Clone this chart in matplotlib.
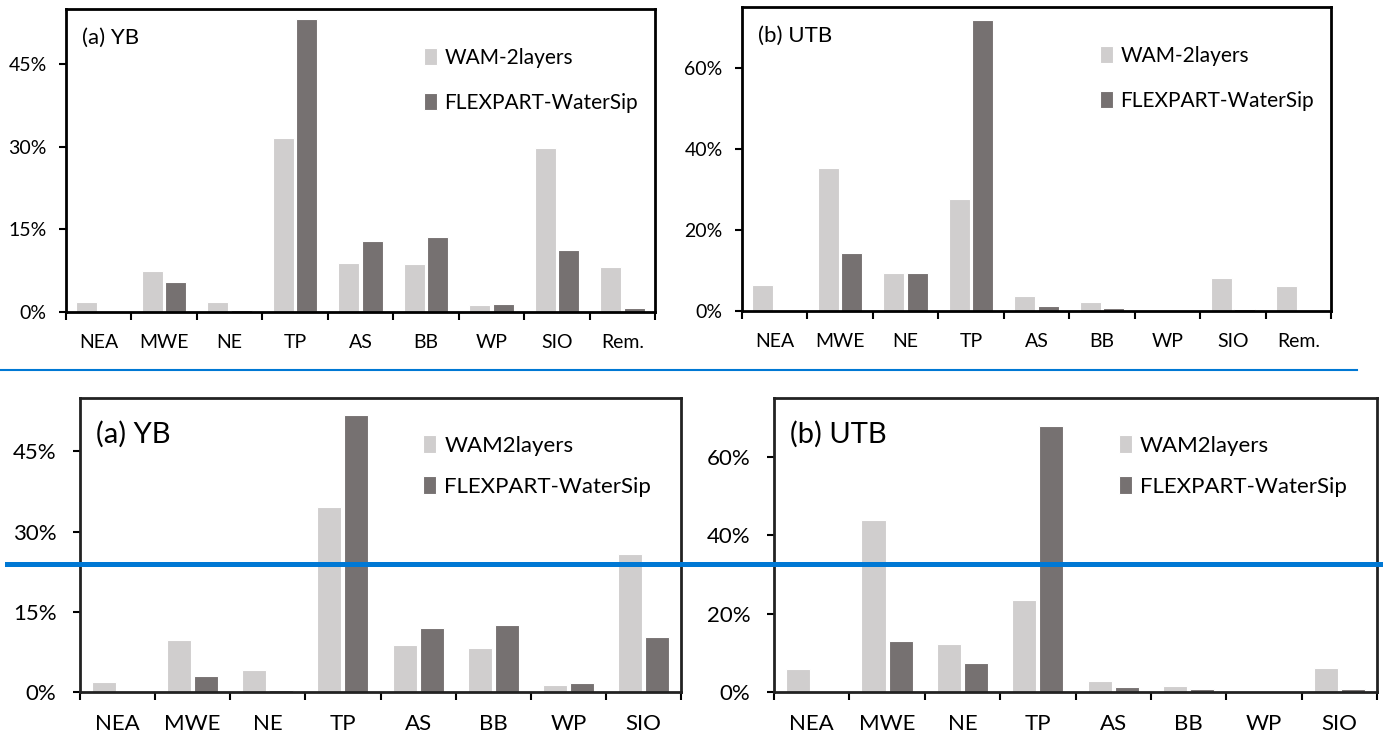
import numpy as np
import matplotlib.pyplot as plt
from matplotlib.lines import Line2D
from matplotlib.ticker import FuncFormatter

plt.rcParams['font.family'] = ['Lato', 'DejaVu Sans']

regions_top = ['NEA', 'MWE', 'NE', 'TP', 'AS', 'BB', 'WP', 'SIO', 'Rem.']
regions_bot = ['NEA', 'MWE', 'NE', 'TP', 'AS', 'BB', 'WP', 'SIO']

# moisture source contributions (%)
yb_wam_top = [1.8, 7.4, 1.9, 31.6, 8.9, 8.7, 1.3, 29.8, 8.1]
yb_flex_top = [0.0, 5.4, 0.3, 53.2, 12.9, 13.7, 1.5, 11.3, 0.8]
utb_wam_top = [6.3, 35.4, 9.4, 27.7, 3.7, 2.1, 0.0, 8.1, 6.2]
utb_flex_top = [0.0, 14.4, 9.4, 71.9, 1.2, 0.7, 0.0, 0.5, 0.0]

yb_wam_bot = [1.8, 9.8, 4.1, 34.7, 8.8, 8.3, 1.4, 25.8]
yb_flex_bot = [0.0, 3.0, 0.4, 51.8, 11.9, 12.5, 1.6, 10.2]
utb_wam_bot = [5.8, 44.0, 12.2, 23.4, 2.7, 1.6, 0.0, 6.2]
utb_flex_bot = [0.0, 13.1, 7.3, 67.9, 1.3, 0.8, 0.0, 0.8]

light = '#D0CECE'
dark = '#767171'
blue = '#0078D4'

W, H = 1383, 738
fig = plt.figure(figsize=(W / 100, H / 100), dpi=100)


def px_axes(x0, y0, x1, y1):
    return fig.add_axes([x0 / W, 1 - y1 / H, (x1 - x0) / W, (y1 - y0) / H])


def panel(ax, cats, wam, flex, title, ymax, yticks, wam_label, fs_tick,
          fs_title, fs_leg, ypad, title_y, leg_x, leg_y, leg_sp,
          frame_col='black'):
    x = np.arange(len(cats))
    ax.bar(x - 0.18, wam, width=0.32, color=light, edgecolor='white',
           linewidth=0.8, label=wam_label)
    ax.bar(x + 0.18, flex, width=0.32, color=dark, edgecolor='white',
           linewidth=0.8, label='FLEXPART-WaterSip')
    ax.set_xlim(-0.5, len(cats) - 0.5)
    ax.set_ylim(0, ymax)
    ax.set_yticks(yticks)
    ax.yaxis.set_major_formatter(FuncFormatter(lambda v, p: f'{v:.0f}%'))
    # boundary ticks between regions, labels centred on regions
    ax.set_xticks(np.arange(len(cats) + 1) - 0.5)
    ax.set_xticklabels([])
    ax.set_xticks(x, minor=True)
    ax.set_xticklabels(cats, minor=True, fontsize=fs_tick)
    ax.tick_params(axis='x', which='major', direction='out', length=6,
                   width=1.5, color='black')
    ax.tick_params(axis='x', which='minor', length=0, pad=16)
    ax.tick_params(axis='y', direction='out', length=5, width=1.5,
                   labelsize=fs_tick, pad=ypad)
    for s in ax.spines.values():
        s.set_linewidth(2)
        s.set_color(frame_col)
    ax.text(0.027, title_y, title, transform=ax.transAxes, fontsize=fs_title,
            va='center', ha='left')
    ax.legend(loc='upper right', bbox_to_anchor=(leg_x, leg_y), frameon=False,
              fontsize=fs_leg, handlelength=0.6, handleheight=0.9,
              handletextpad=0.35, labelspacing=leg_sp, borderaxespad=0)


ax1 = px_axes(66, 9, 655, 312)
panel(ax1, regions_top, yb_wam_top, yb_flex_top, '(a) YB', 55,
      [0, 15, 30, 45], 'WAM-2layers', 14, 16, 15, 9, 0.905,
      0.985, 0.9, 1.2)
ax2 = px_axes(742, 7, 1331, 311)
panel(ax2, regions_top, utb_wam_top, utb_flex_top, '(b) UTB', 75,
      [0, 20, 40, 60], 'WAM-2layers', 14, 16, 15, 9, 0.905,
      0.985, 0.9, 1.2)
ax3 = px_axes(80, 398, 681, 692)
panel(ax3, regions_bot, yb_wam_bot, yb_flex_bot, '(a) YB', 55,
      [0, 15, 30, 45], 'WAM2layers', 16, 21, 16, 12, 0.875,
      0.965, 0.905, 0.9, frame_col='#222222')
ax4 = px_axes(774, 398, 1377, 692)
panel(ax4, regions_bot, utb_wam_bot, utb_flex_bot, '(b) UTB', 75,
      [0, 20, 40, 60], 'WAM2layers', 16, 21, 16, 12, 0.875,
      0.965, 0.905, 0.9, frame_col='#222222')

# separator lines
fig.add_artist(Line2D([0, 1357 / W], [1 - 370 / H] * 2, color=blue, lw=1.5))
fig.add_artist(Line2D([7 / W, 1], [1 - 564 / H] * 2, color=blue, lw=3.6))

fig.savefig('out.png', dpi=100)
